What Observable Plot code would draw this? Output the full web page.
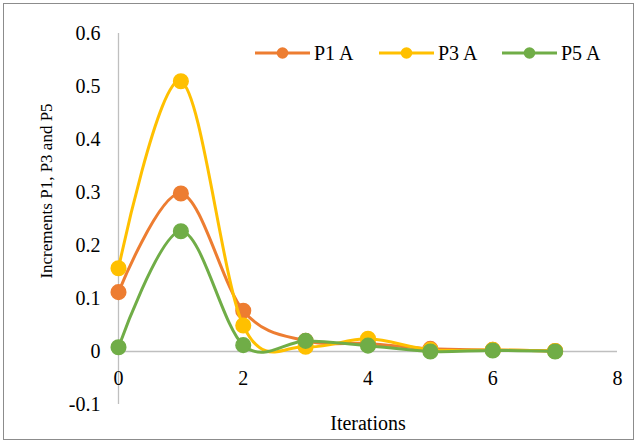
<!DOCTYPE html>
<html><head><meta charset="utf-8">
<script src="https://cdn.jsdelivr.net/npm/d3@7"></script>
<script src="https://cdn.jsdelivr.net/npm/@observablehq/plot@0.6"></script>
<style>
body{margin:0;background:#fff;font-family:"Liberation Serif",serif;}
#wrap{position:relative;width:638px;height:444px;overflow:hidden;}
#chart svg, #chart svg text{font-family:"Liberation Serif",serif !important;}
#border{position:absolute;left:3px;top:3px;width:629px;height:435px;border:1px solid #8c8c8c;pointer-events:none;}
#legend{position:absolute;top:41px;left:255px;font-size:20px;color:#000;}
#legend .item{position:absolute;top:0;display:flex;align-items:center;white-space:nowrap;height:24px;}
#legend svg{margin-right:4px;}
#ytitle{position:absolute;left:46px;top:191px;transform:translate(-50%,-50%) rotate(-90deg);font-size:17px;white-space:nowrap;color:#000;line-height:1;}
</style></head><body>
<div id="wrap"><div id="chart"></div><div id="legend"></div><div id="ytitle">Increments P1, P3 and P5</div><div id="border"></div></div>
<script>
const iterations = [0, 1, 2, 3, 4, 5, 6, 7];
const seriesNames = ["P1 A", "P3 A", "P5 A"];
const p1 = [0.112, 0.298, 0.077, 0.020, 0.015, 0.005, 0.003, 0.001];
const p3 = [0.157, 0.510, 0.049, 0.009, 0.024, 0.003, 0.003, 0.001];
const p5 = [0.008, 0.227, 0.012, 0.020, 0.011, 0.000, 0.002, 0.000];
const colors = ["#ED7D31", "#FFC000", "#70AD47"];
const xTicks = [0, 2, 4, 6, 8];
const yTicks = [-0.1, 0, 0.1, 0.2, 0.3, 0.4, 0.5, 0.6];

const values = [p1, p3, p5];
const data = [];
seriesNames.forEach((s, i) => iterations.forEach((x, j) => data.push({series: s, x, y: values[i][j]})));

const marks = [
  Plot.ruleX([0], {y1: -0.1, y2: 0.6, stroke: "#bfbfbf", strokeWidth: 1.3}),
  Plot.ruleY([0], {x1: 0, x2: 8, stroke: "#bfbfbf", strokeWidth: 1.3}),
  Plot.text(xTicks, {x: d => d, y: 0, dy: 27, text: d => String(d), fontSize: 20, fill: "#000"}),
  Plot.text(yTicks, {x: 0, y: d => d, dx: -18, textAnchor: "end", text: d => String(d), fontSize: 20, fill: "#000"})
];
seriesNames.forEach((s, i) => {
  const d = data.filter(r => r.series === s);
  marks.push(Plot.line(d, {x: "x", y: "y", stroke: colors[i], strokeWidth: 3, curve: "cardinal", tension: 0}));
  marks.push(Plot.dot(d, {x: "x", y: "y", r: 7.3, fill: colors[i], stroke: colors[i]}));
});

const chart = Plot.plot({
  width: 638, height: 444,
  marginLeft: 118, marginRight: 21, marginTop: 33, marginBottom: 40,
  style: {background: "#fff"},
  x: {domain: [0, 8], axis: null},
  y: {domain: [-0.1, 0.6], axis: null},
  marks: [
    ...marks,
    Plot.text(["Iterations"], {frameAnchor: "bottom", dy: 25, text: d => d, fontSize: 20, fill: "#000"})
  ]
});
document.getElementById("chart").appendChild(chart);

const legend = document.getElementById("legend");
const legendOffsets = [0, 124, 247];
seriesNames.forEach((s, i) => {
  const it = document.createElement("div");
  it.className = "item";
  it.style.left = legendOffsets[i] + "px";
  it.innerHTML = `<svg width="55" height="14"><line x1="0" y1="7" x2="55" y2="7" stroke="${colors[i]}" stroke-width="3"/><circle cx="27.5" cy="7" r="5.8" fill="${colors[i]}"/></svg><span>${s}</span>`;
  legend.appendChild(it);
});
</script>
</body></html>
